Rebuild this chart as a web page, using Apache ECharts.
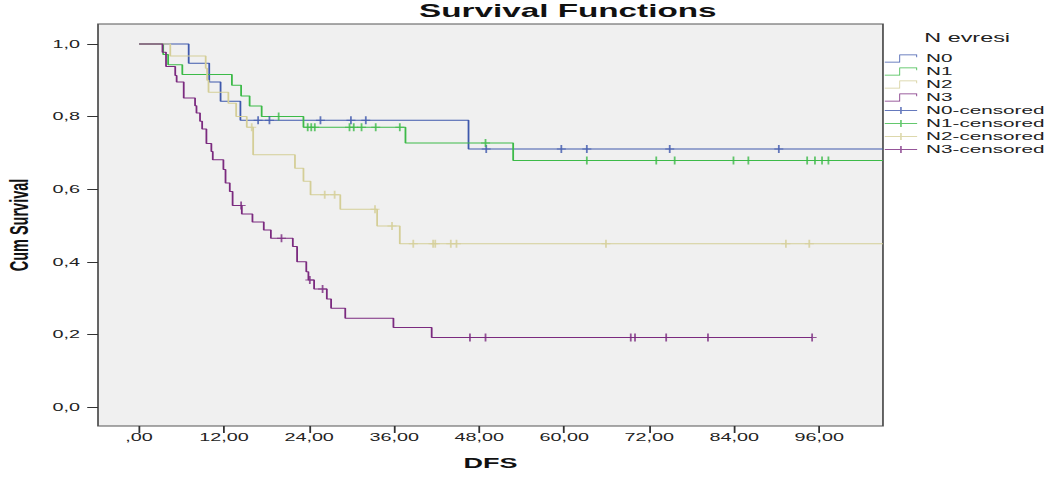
<!DOCTYPE html>
<html>
<head>
<meta charset="utf-8">
<script src="https://cdn.jsdelivr.net/npm/echarts@6/dist/echarts.min.js"></script>
<style>
  html, body { margin: 0; padding: 0; background: #fff; overflow: hidden; }
  /* the source picture is stretched sideways, so the chart is drawn narrow and widened */
  #chart { width: 590px; height: 477px; transform: scaleX(1.7983); transform-origin: 0 0; }
</style>
</head>
<body>
<div id="chart"></div>
<script>
  // step points: survival from each time onward
  const n0Time = [0, 7.0, 9.9, 11.5, 14.3, 46.5, 105]
  const n0Surv = [1, 0.947, 0.895, 0.842, 0.79, 0.711, 0.711]
  const n0Censored = [16.8, 18.4, 25.6, 29.9, 32.0, 49.0, 59.6, 63.2, 74.9, 90.3]

  const n1Time = [0, 3.4, 4.1, 6.1, 13.1, 14.4, 15.6, 17.3, 23.2, 37.6, 52.8, 105]
  const n1Surv = [1, 0.971, 0.943, 0.916, 0.886, 0.857, 0.829, 0.80, 0.771, 0.727, 0.679, 0.679]
  const n1Censored = [19.7, 23.8, 24.3, 24.8, 29.7, 30.3, 31.4, 33.4, 36.8, 48.9, 63.2, 73.0, 75.6, 83.9, 86.0, 94.3, 95.4, 96.4, 97.3]

  const n2Time = [0, 4.4, 9.4, 9.6, 9.8, 12.6, 13.7, 15.2, 16.1, 22.0, 23.2, 24.2, 28.4, 33.6, 36.8, 105]
  const n2Surv = [1, 0.967, 0.933, 0.90, 0.867, 0.837, 0.80, 0.771, 0.695, 0.658, 0.622, 0.585, 0.545, 0.499, 0.45, 0.45]
  const n2Censored = [15.9, 26.2, 27.6, 33.3, 35.7, 38.7, 41.5, 41.8, 44.0, 44.8, 65.9, 91.3, 94.6]

  const n3Time = [0, 3.3, 3.8, 5.1, 5.3, 6.3, 7.9, 8.1, 8.6, 8.9, 9.5, 10.2, 10.4, 11.9, 12.2, 12.8, 13.2, 14.5, 16.0, 17.6, 18.6, 21.7, 22.3, 23.6, 23.9, 24.7, 26.5, 27.1, 29.1, 35.9, 41.3, 95.0]
  const n3Surv = [1, 0.977, 0.938, 0.913, 0.895, 0.851, 0.83, 0.81, 0.787, 0.766, 0.726, 0.704, 0.681, 0.654, 0.617, 0.594, 0.555, 0.532, 0.51, 0.488, 0.465, 0.442, 0.40, 0.373, 0.35, 0.325, 0.298, 0.272, 0.245, 0.219, 0.192, 0.192]
  const n3Censored = [14.4, 20.1, 24.1, 25.9, 46.7, 48.9, 69.4, 70.0, 74.4, 80.3, 95.0]

  const groupNames = ['N0', 'N1', 'N2', 'N3']
  const groupColors = ['#3e58ac', '#3cba48', '#d4ce97', '#7b2a7f']
  const xTicks = [0, 12, 24, 36, 48, 60, 72, 84, 96]
  const yTicks = [0, 0.2, 0.4, 0.6, 0.8, 1.0]

  const groups = [
    [n0Time, n0Surv, n0Censored],
    [n1Time, n1Surv, n1Censored],
    [n2Time, n2Surv, n2Censored],
    [n3Time, n3Surv, n3Censored]
  ]

  // survival level at time t (last step at or before t)
  function survAt (times, surv, t) {
    let s = surv[0]
    for (let i = 0; i < times.length; i++) {
      if (times[i] <= t) s = surv[i]
    }
    return s
  }

  const font = 'Liberation Sans'
  const stepIcon = 'path://M0,9L9.5,9L9.5,1L19.5,1L19.5,3L20,3L20,0L9,0L9,8L0,8Z'
  const censorIcon = 'path://M0,4.5L9.5,4.5L9.5,1L10.5,1L10.5,4.5L20,4.5L20,5.5L10.5,5.5L10.5,9L9.5,9L9.5,5.5L0,5.5Z'
  const plusMark = 'path://M2,0L3,0L3,3.5L5,3.5L5,4.5L3,4.5L3,8L2,8L2,4.5L0,4.5L0,3.5L2,3.5Z'

  const series = []
  groups.forEach(function (g, i) {
    series.push({
      name: groupNames[i],
      type: 'line',
      step: 'end',
      symbol: 'none',
      data: g[0].map(function (t, k) { return [t, g[1][k]] }),
      lineStyle: { color: groupColors[i], width: 1 },
      itemStyle: { color: groupColors[i], borderWidth: 0 },
      z: 2 + i
    })
  })
  groups.forEach(function (g, i) {
    series.push({
      name: groupNames[i] + '-censored',
      type: 'scatter',
      symbol: plusMark,
      symbolSize: [5, 8],
      data: g[2].map(function (c) { return [c, survAt(g[0], g[1], c)] }),
      itemStyle: { color: groupColors[i] },
      z: 10
    })
  })

  const legendData = groupNames.map(function (n) { return { name: n, icon: stepIcon } })
    .concat(groupNames.map(function (n) { return { name: n + '-censored', icon: censorIcon } }))

  const chart = echarts.init(document.getElementById('chart'), null, { renderer: 'svg' })
  chart.setOption({
    animation: false,
    backgroundColor: '#fff',
    title: [
      {
        text: 'Survival Functions',
        left: 233,
        top: 1,
        padding: 0,
        textStyle: { fontFamily: font, fontSize: 18.5, fontWeight: 'bold', color: '#111' }
      },
      {
        text: 'N evresi',
        left: 514,
        top: 31,
        padding: 0,
        textStyle: { fontFamily: font, fontSize: 13, fontWeight: 'normal', color: '#222' }
      }
    ],
    legend: {
      orient: 'vertical',
      left: 492,
      top: 52,
      padding: 0,
      itemWidth: 18,
      itemHeight: 10,
      itemGap: 0,
      textStyle: { fontFamily: font, fontSize: 11.5, lineHeight: 13, color: '#222' },
      data: legendData
    },
    grid: {
      left: 54.5,
      right: 99,
      top: 24,
      bottom: 51,
      outerBoundsMode: 'none',
      show: true,
      backgroundColor: '#f0f0f0',
      borderColor: '#555',
      borderWidth: 1
    },
    xAxis: {
      type: 'value',
      min: -5.8,
      max: 105,
      name: 'DFS',
      nameLocation: 'middle',
      nameGap: 29,
      nameMoveOverlap: false,
      nameTextStyle: { fontFamily: font, fontSize: 15, fontWeight: 'bold', color: '#111' },
      axisLine: { show: false, onZero: false },
      splitLine: { show: false },
      axisTick: { show: true, length: 7, customValues: xTicks, lineStyle: { color: '#333' } },
      axisLabel: {
        customValues: xTicks,
        margin: 6,
        fontFamily: font,
        fontSize: 11,
        color: '#222',
        formatter: function (v) { return v === 0 ? ',00' : v.toFixed(2).replace('.', ',') }
      }
    },
    yAxis: {
      type: 'value',
      min: -0.052,
      max: 1.055,
      name: 'Cum Survival',
      nameLocation: 'middle',
      nameGap: 36.5,
      nameMoveOverlap: false,
      nameTextStyle: { fontFamily: font, fontSize: 14.5, fontWeight: 'bold', color: '#111' },
      axisLine: { show: false, onZero: false },
      splitLine: { show: false },
      axisTick: { show: true, length: 6, customValues: yTicks, lineStyle: { color: '#333' } },
      axisLabel: {
        customValues: yTicks,
        margin: 10,
        fontFamily: font,
        fontSize: 11,
        color: '#222',
        formatter: function (v) { return v.toFixed(1).replace('.', ',') }
      }
    },
    series: series
  })
</script>
</body>
</html>
